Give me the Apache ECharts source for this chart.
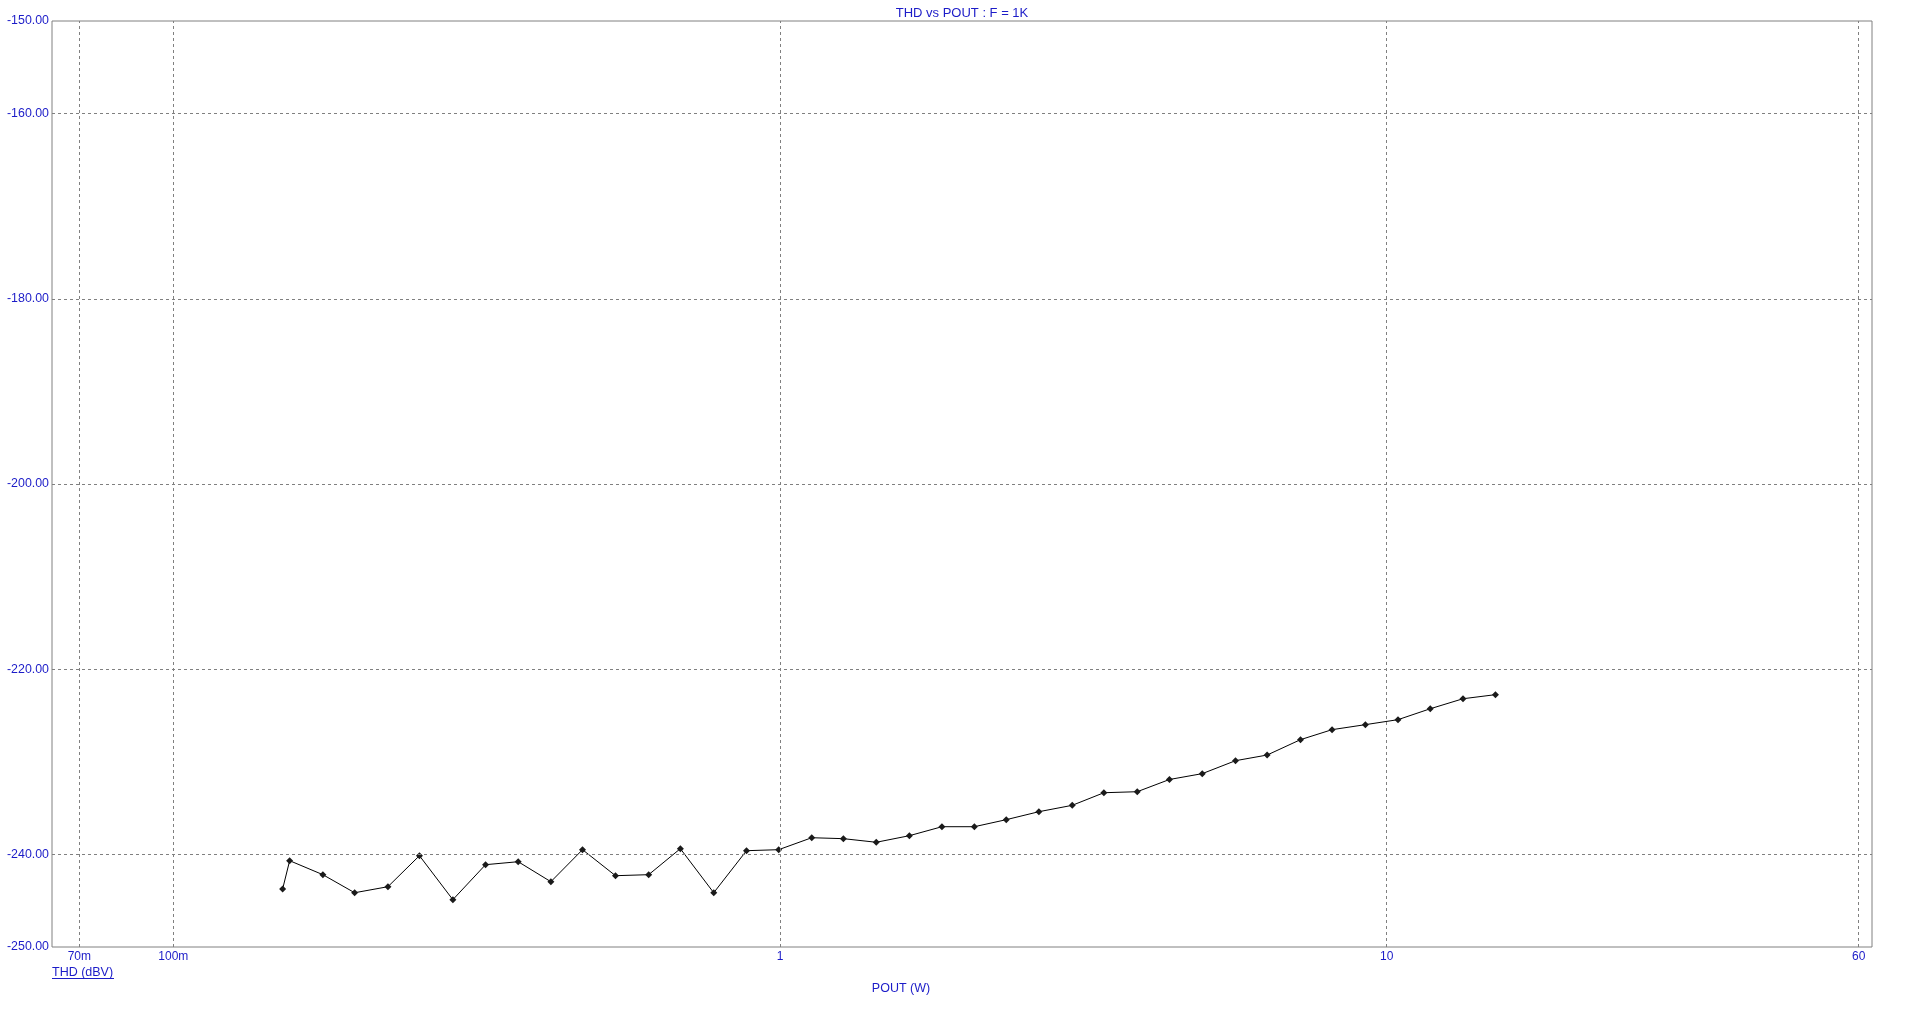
<!DOCTYPE html>
<html>
<head>
<meta charset="utf-8">
<script src="https://cdn.jsdelivr.net/npm/echarts@6/dist/echarts.min.js"></script>
<style>
html,body{margin:0;padding:0;background:#fff;}
#chart{width:1907px;height:1009px;}
</style>
</head>
<body>
<div id="chart"></div>
<script>
// Data
const poutW = [0.1514,0.1555,0.1764,0.1990,0.2258,0.2545,0.2889,0.3271,0.3702,0.4191,
  0.4726,0.5356,0.6075,0.6851,0.7776,0.8806,0.995,1.128,1.272,1.441,
  1.634,1.849,2.091,2.360,2.671,3.032,3.419,3.880,4.385,4.966,
  5.634,6.353,7.210,8.128,9.224,10.44,11.80,13.36,15.11];
const thdDbv = [-243.74,-240.68,-242.19,-244.14,-243.49,-240.14,-244.89,-241.11,-240.79,-242.95,
  -239.49,-242.30,-242.19,-239.38,-244.14,-239.60,-239.49,-238.20,-238.30,-238.69,
  -237.98,-237.01,-237.01,-236.25,-235.39,-234.70,-233.34,-233.23,-231.91,-231.28,
  -229.88,-229.27,-227.61,-226.53,-225.99,-225.45,-224.27,-223.19,-222.75];
const xTickValues = [0.07, 0.1, 1, 10, 60];
const xTickLabels = ['70m', '100m', '1', '10', '60'];
const yLabelValues = [-250, -240, -220, -200, -180, -160, -150];
const yGridValues = [-240, -220, -200, -180, -160];
const titleText = 'THD vs POUT : F = 1K';
const xName = 'POUT (W)';
const yName = 'THD (dBV)';

const BLUE = '#1c1cc8';
const GRID = '#808080';
const FONT = '"Liberation Sans", Arial, sans-serif';

const chart = echarts.init(document.getElementById('chart'), null, {renderer: 'canvas'});
const pts = poutW.map((x, i) => [x, thdDbv[i]]);
const gridLines = xTickValues.map(v => ({xAxis: v})).concat(yGridValues.map(v => ({yAxis: v})));

chart.setOption({
  animation: false,
  backgroundColor: '#ffffff',
  grid: {
    left: 52, top: 21, right: 35, bottom: 62,
    show: true, borderColor: GRID, borderWidth: 1,
    containLabel: false, outerBoundsMode: 'none'
  },
  xAxis: {
    type: 'log', logBase: 10,
    min: Math.pow(10, -1.2), max: Math.pow(10, 1.8),
    axisLine: {show: false},
    axisTick: {show: false},
    splitLine: {show: false},
    minorTick: {show: false},
    minorSplitLine: {show: false},
    axisLabel: {
      customValues: xTickValues,
      formatter: v => {
        const i = xTickValues.findIndex(t => Math.abs(t - v) / t < 1e-6);
        return i >= 0 ? xTickLabels[i] : '';
      },
      color: BLUE, fontFamily: FONT, fontSize: 12, margin: 4,
      showMinLabel: true, showMaxLabel: true
    }
  },
  yAxis: {
    type: 'value', min: -250, max: -150, interval: 10,
    axisLine: {show: false},
    axisTick: {show: false},
    splitLine: {show: false},
    axisLabel: {
      customValues: yLabelValues,
      formatter: v => v.toFixed(2),
      color: BLUE, fontFamily: FONT, fontSize: 12.4, margin: 3
    }
  },
  series: [
    {
      type: 'line', data: [], z: 1, silent: true,
      markLine: {
        silent: true, symbol: 'none', animation: false,
        label: {show: false},
        lineStyle: {color: GRID, type: [3, 3], width: 1},
        emphasis: {disabled: true},
        data: gridLines
      }
    },
    {
      type: 'line', data: pts, z: 3,
      symbol: 'diamond', symbolSize: 7,
      showAllSymbol: true,
      lineStyle: {color: '#000000', width: 1},
      itemStyle: {color: '#1a1a1a'},
      emphasis: {disabled: true}
    }
  ],
  graphic: [
    {type: 'text', x: 962, y: 13.5, style: {text: titleText, fill: BLUE, font: '13px ' + FONT, align: 'center', verticalAlign: 'middle'}},
    {type: 'text', x: 901, y: 989, style: {text: xName, fill: BLUE, font: '12.5px ' + FONT, align: 'center', verticalAlign: 'middle'}},
    {type: 'text', x: 52, y: 972.5, style: {text: yName, fill: BLUE, font: '12.5px ' + FONT, align: 'left', verticalAlign: 'middle'}},
    {type: 'line', shape: {x1: 52, y1: 978.5, x2: 114, y2: 978.5}, style: {stroke: BLUE, lineWidth: 1}}
  ]
});
</script>
</body>
</html>
